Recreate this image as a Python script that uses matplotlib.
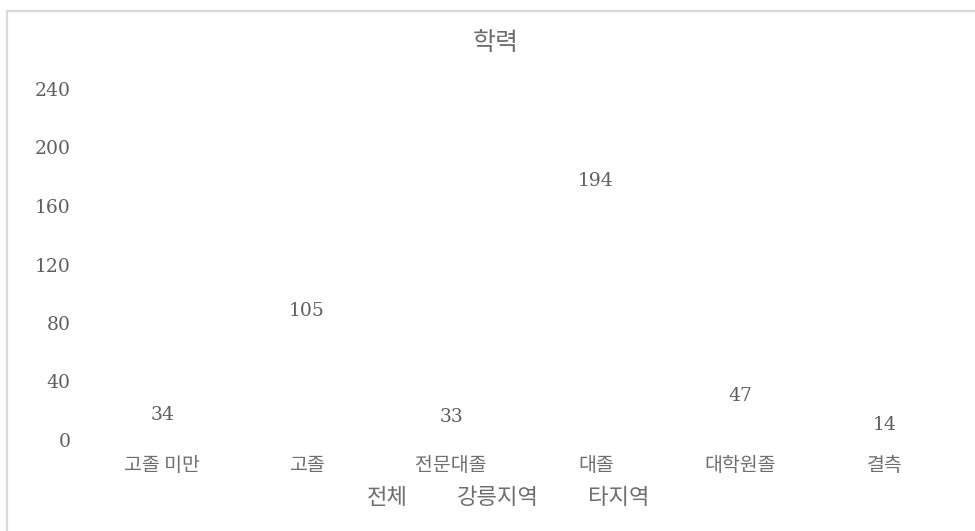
import matplotlib
matplotlib.use('Agg')
import matplotlib.pyplot as plt
from matplotlib.patches import Rectangle, Patch

plt.rcParams['font.family'] = ['DejaVu Serif', 'Noto Sans CJK KR', 'DejaVu Sans']

categories = ['고졸 미만', '고졸', '전문대졸', '대졸', '대학원졸', '결측']
total = [34, 105, 33, 194, 47, 14]
series_names = ['전체', '강릉지역', '타지역']
yticks = [0, 40, 80, 120, 160, 200, 240]

text_color = '#5f5f5f'
kr_color = '#6e6e6e'
kr_font = {'family': ['Noto Sans CJK KR', 'DejaVu Sans'], 'weight': 'light'}

fig = plt.figure(figsize=(9.75, 5.31), dpi=100)
# outer chart frame (only left and top edges fall inside the image)
fig.patches.append(Rectangle((6.5 / 975, -0.1), 1.2, (531 - 10.5) / 531 + 0.1,
                             transform=fig.transFigure, fill=False,
                             edgecolor='#d9d9d9', linewidth=1.6))

ax = fig.add_axes([90 / 975, (531 - 440) / 531, (957 - 90) / 975, (440 - 89) / 531])
x = list(range(len(categories)))
bars = ax.bar(x, total, width=0.6, color='none', edgecolor='none')

ax.set_xlim(-0.5, len(categories) - 0.5)
ax.set_ylim(0, 240)
ax.set_yticks(yticks)
ax.set_yticklabels([str(t) for t in yticks], fontsize=13.5, color=text_color)
ax.set_xticks(x)
ax.set_xticklabels(categories, fontsize=14, color=kr_color, **kr_font)
ax.tick_params(length=0, axis='y', pad=14)
ax.tick_params(length=0, axis='x', pad=11)
for s in ax.spines.values():
    s.set_visible(False)

# value labels sit just inside the bar ends
for xi, v in zip(x, total):
    ax.text(xi, max(v - 17, 10), str(v), ha='center', va='center',
            fontsize=13.5, color=text_color)

fig.text(496 / 975, 1 - 43 / 531, '학력', ha='center', va='center',
         fontsize=18, color=kr_color, **kr_font)

handles = [Patch(facecolor='none', edgecolor='none') for _ in series_names]
leg = fig.legend(handles, series_names, loc='center', ncol=3,
                 bbox_to_anchor=(497 / 975, 1 - 498 / 531), frameon=False,
                 handlelength=0.7, handletextpad=0.3, columnspacing=1.2,
                 prop={'size': 16, 'family': kr_font['family'], 'weight': 'light'})
for t in leg.get_texts():
    t.set_color(kr_color)

fig.savefig('out.png', dpi=100)
